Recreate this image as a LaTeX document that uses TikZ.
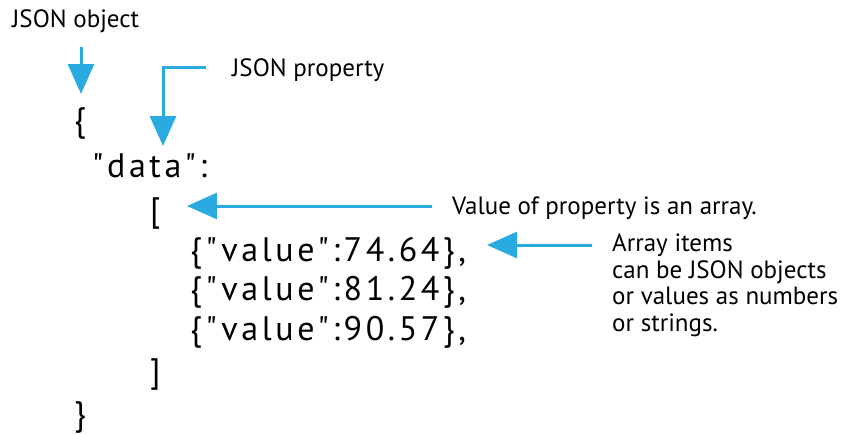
\documentclass[tikz,border=0pt]{standalone}
\usepackage{fontspec}
\setmainfont{PT Sans}
\newfontfamily\codefont[LetterSpace=10.5]{PT Sans}
\usetikzlibrary{arrows.meta}
\definecolor{arrowblue}{RGB}{41,171,226}
\tikzset{
  lbl/.style={anchor=base west, inner sep=0pt, font=\fontsize{25}{26}\selectfont},
  code/.style={anchor=base west, inner sep=0pt, font=\codefont\fontsize{34}{40}\selectfont},
  callout/.style={draw=arrowblue, line width=3pt, -{Triangle[length=30pt,width=26pt]}, arrowblue},
}
\begin{document}
\begin{tikzpicture}[x=1pt,y=-1pt]
\useasboundingbox (0,0) rectangle (842,434);
% labels
\node[lbl] (objlbl) at (12,27) {JSON object};
\node[lbl] (proplbl) at (232,76) {JSON property};
\node[lbl] (arrlbl) at (452,214) {Value of property is an array.};
\node[lbl, align=left, anchor=north west, font=\fontsize{25}{26.5}\selectfont] (itemlbl) at (612,234) {Array items\\can be JSON objects\\or values as numbers\\or strings.};
% code
\node[code] (lbrace) at (74,131) {\{};
\node[code] (data) at (92,177) {"data":};
\node[code] (lbrack) at (150,221) {[};
\node[code] (v1) at (190,261) {\{"value":74.64\},};
\node[code] (v2) at (190,300) {\{"value":81.24\},};
\node[code] (v3) at (190,340) {\{"value":90.57\},};
\node[code] (rbrack) at (150,382) {]};
\node[code] (rbrace) at (74,425) {\}};
% arrow endpoints
\coordinate (a1s) at (81,47);
\coordinate (a1e) at (81,94);
\coordinate (a2s) at (206,67);
\coordinate (a2c) at (163,67);
\coordinate (a2e) at (163,146);
\coordinate (a3s) at (432,206);
\coordinate (a3e) at (187,206);
\coordinate (a4s) at (592,245);
\coordinate (a4e) at (487,245);
\draw[callout] (a1s) -- (a1e);
\draw[callout] (a2s) -- (a2c) -- (a2e);
\draw[callout] (a3s) -- (a3e);
\draw[callout] (a4s) -- (a4e);
\end{tikzpicture}
\end{document}
